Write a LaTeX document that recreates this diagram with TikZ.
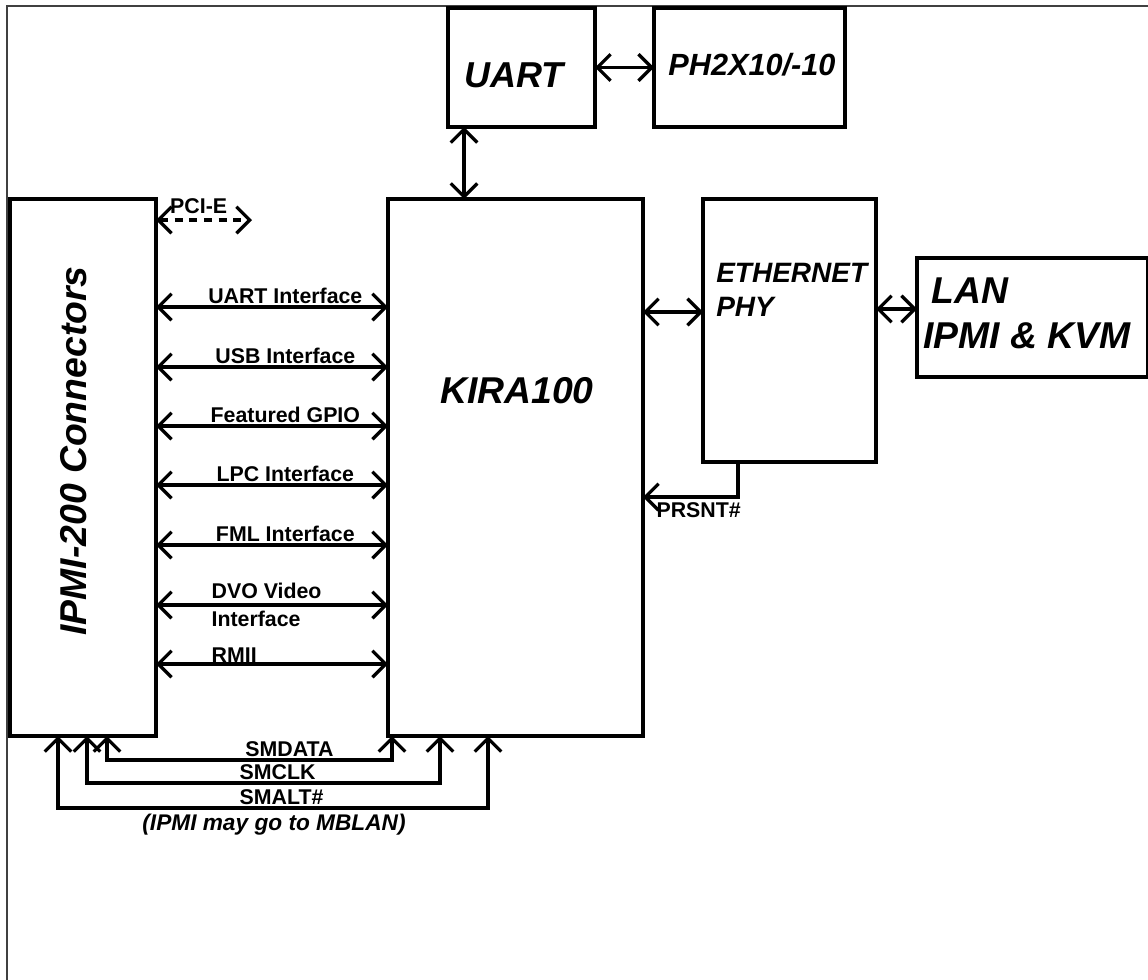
\documentclass[tikz,border=0pt]{standalone}
\usepackage{fontspec}
\setmainfont{Liberation Sans}
\usetikzlibrary{arrows.meta, positioning, calc}

\begin{document}
\begin{tikzpicture}[
  x=0.75pt, y=-0.75pt,
  font=\bfseries,
  >={Straight Barb[length=10pt, width=20pt]},
  box/.style={rectangle, draw, line width=2.4pt, inner sep=0pt, outer sep=0pt},
  title/.style={inner sep=0pt, align=left,
                font=\bfseries\itshape\fontsize{#1}{#1}\linespread{1.2}\selectfont},
  lbl/.style={inner sep=0pt, align=left, font=\bfseries\fontsize{16}{21}\selectfont},
  smlbl/.style={inner sep=0pt, font=\bfseries\fontsize{16}{19}\selectfont},
  link/.style={<->, line width=2.4pt},
  frame/.style={draw=black!75, line width=1.5pt},
]
\useasboundingbox (0,0) rectangle (1148,979);

% --- page frame ---
\draw[frame] (7,995) |- (1165,6);

% --- blocks ---
\node[box, minimum width=109.5pt, minimum height=402.75pt] (ipmi) at (83,467.5) {};
\node[box, minimum width=191.25pt, minimum height=402.75pt] (kira) at (515.5,467.5) {};
\node[box, minimum width=110.25pt, minimum height=89.25pt] (uart) at (521.5,67.5) {};
\node[box, minimum width=143.25pt, minimum height=89.25pt, right=44.25pt of uart] (ph) {};
\node[box, minimum width=129.75pt, minimum height=197.25pt,
      right=45pt of kira.north east, anchor=north west] (phy) {};
\node[box, minimum width=173.25pt, minimum height=89.25pt] (lan) at (1032.5,317.5) {};

% --- block texts ---
\node[title=27] (uarttxt) at (514,75.5) {UART};
\node[title=23] (phtxt) at (752,64.5) {PH2X10/-10};
\node[title=28] (kiratxt) at (517,391) {KIRA100};
\node[title=28, rotate=90] (ipmitxt) at (74,451) {IPMI-200 Connectors};
\node[title=21, anchor=north west] (phytxt) at (716,263) {ETHERNET\\PHY};
\node[title=28, anchor=north west] (lantxt) at (923,278) {\hspace*{6pt}LAN\\IPMI \& KVM};

% --- top and right links ---
\draw[link] (uart.east) -- (ph.west);
\draw[link] ([xshift=12pt]uart.south west) -- ([xshift=12pt]uart.south west |- kira.north);
\draw[link] ($(kira.north east)+(0,113)$) -- ($(phy.north west)+(0,113)$);
\draw[link] ($(phy.north east)+(0,110)$) -- ($(lan.north west)+(0,51)$);
\draw[->, line width=2.4pt] ($(phy.south west)+(35,0)$) |- ($(kira.north east)+(0,298)$)
  node[smlbl, anchor=north west, xshift=9pt, yshift=-3pt] (prsnt) {PRSNT\#};

% --- buses between connectors and KIRA100 ---
\coordinate (pcie) at ($(ipmi.north east)+(96,21)$);
\draw[link, dash pattern=on 6pt off 5pt] ($(ipmi.north east)+(0,21)$) -- node[lbl, above=3.5pt, xshift=-4pt] (pcielbl) {PCI-E} (pcie);
\foreach \y/\name in {108/UART Interface, 168/USB Interface, 227/Featured GPIO,
                      286/LPC Interface, 346/FML Interface}
  \draw[link] ($(ipmi.north east)+(0,\y)$) -- node[lbl, above=1pt, xshift=10pt] {\name} ($(kira.north west)+(0,\y)$);
\draw[link] ($(ipmi.north east)+(0,406)$) -- node[lbl, pos=0.233, anchor=west] (dvo) {DVO Video\\Interface} ($(kira.north west)+(0,406)$);
\draw[link] ($(ipmi.north east)+(0,465)$) -- node[lbl, pos=0.233, anchor=south west] (rmii) {RMII} ($(kira.north west)+(0,465)$);

% --- SM bus below ---
\draw[link] ($(kira.south west)+(4,0)$) -- ++(0,24) -| node[smlbl, pos=0.18, above=1pt] (smdata) {SMDATA} ($(ipmi.south west)+(97,0)$);
\draw[link] ($(kira.south west)+(52,0)$) -- ++(0,47) -| node[smlbl, pos=0.23, above=1pt] (smclk) {SMCLK} ($(ipmi.south west)+(77,0)$);
\draw[link] ($(kira.south west)+(100,0)$) -- ++(0,72) -| node[smlbl, pos=0.24, above=1pt] (smalt) {SMALT\#} ($(ipmi.south west)+(48,0)$);
\node[title=17, anchor=north] (mblan) at (274,814) {(IPMI may go to MBLAN)};

\end{tikzpicture}
\end{document}
